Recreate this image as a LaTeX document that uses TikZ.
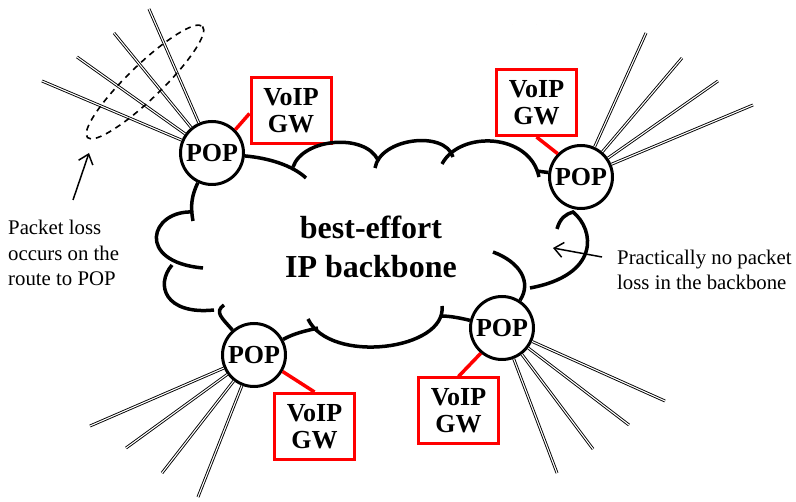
\documentclass[tikz,border=0pt]{standalone}
\usepackage{fontspec}
\setmainfont{Liberation Serif}
\usetikzlibrary{arrows.meta}

\tikzset{
  pop/.style={draw, shape=circle, line width=3pt, minimum size=63pt, inner sep=0pt,
    font=\fontsize{26}{27}\selectfont\bfseries},
  gw/.style={draw=red, line width=3pt, minimum width=80pt, minimum height=66pt, inner sep=0pt,
    align=center, font=\fontsize{26}{27}\selectfont\bfseries},
  fibre/.style={double, double distance=1.1pt, line width=0.9pt},
  trunk/.style={fibre, draw=red},
  link/.style={red, line width=3.5pt},
  cloud/.style={line width=3.5pt},
  note/.style={align=left, inner sep=0pt, font=\fontsize{20.8}{25.5}\selectfont},
  >={Straight Barb[length=9pt, width=15pt]},
}

\begin{document}
\begin{tikzpicture}[x=1pt, y=-1pt]
  \useasboundingbox (0,0) rectangle (796,502);

  % POPs
  \begin{scope}[every node/.style={pop}]
    \node (p1) at (212,153) {POP};
    \node (p2) at (581,177) {POP};
    \node (p3) at (254,355) {POP};
    \node (p4) at (502,328) {POP};
  \end{scope}

  % gateways
  \begin{scope}[every node/.style={gw}]
    \node (g1) at (291,110.5) {VoIP\\GW};
    \node (g2) at (536.5,102.5) {VoIP\\GW};
    \node (g3) at (314.5,426.5) {VoIP\\GW};
    \node (g4) at (458.5,411) {VoIP\\GW};
  \end{scope}

  \draw[link] (p1.45) -- ([yshift=-3pt]g1.west);
  \draw[link] (p2.135) -- (g2.south);
  \draw[link] (p3.-30) -- (g3.north);
  \draw[link] (p4.-130) -- (g4.north);

  % trunks
  \coordinate (t11) at (266,33);
  \coordinate (t12) at (289,33);
  \coordinate (t13) at (313,33);
  \coordinate (t21) at (512,25);
  \coordinate (t22) at (536,25);
  \coordinate (t23) at (559,25);
  \coordinate (t31) at (289,502);
  \coordinate (t32) at (313,502);
  \coordinate (t33) at (337,502);
  \coordinate (t41) at (433,489);
  \coordinate (t42) at (457,489);
  \coordinate (t43) at (481,489);

  \draw[trunk] (t11) -- (t11 |- g1.north);
  \draw[trunk] (t12) -- (t12 |- g1.north);
  \draw[trunk] (t13) -- (t13 |- g1.north);
  \draw[trunk] (t21) -- (t21 |- g2.north);
  \draw[trunk] (t22) -- (t22 |- g2.north);
  \draw[trunk] (t23) -- (t23 |- g2.north);
  \draw[trunk] (t31) -- (t31 |- g3.south);
  \draw[trunk] (t32) -- (t32 |- g3.south);
  \draw[trunk] (t33) -- (t33 |- g3.south);
  \draw[trunk] (t41) -- (t41 |- g4.south);
  \draw[trunk] (t42) -- (t42 |- g4.south);
  \draw[trunk] (t43) -- (t43 |- g4.south);

  % access lines
  \coordinate (e11) at (42,81);
  \coordinate (e12) at (77,57);
  \coordinate (e13) at (114,33);
  \coordinate (e14) at (149,9);
  \coordinate (e21) at (646,33);
  \coordinate (e22) at (682,58);
  \coordinate (e23) at (718,81);
  \coordinate (e24) at (753,105);
  \coordinate (e31) at (90,426);
  \coordinate (e32) at (126,448);
  \coordinate (e33) at (162,473);
  \coordinate (e34) at (198,497);
  \coordinate (e41) at (665,401);
  \coordinate (e42) at (629,425);
  \coordinate (e43) at (593,449);
  \coordinate (e44) at (557,473);

  \draw[fibre] (p1) -- (e11);
  \draw[fibre] (p1) -- (e12);
  \draw[fibre] (p1) -- (e13);
  \draw[fibre] (p1) -- (e14);
  \draw[fibre] (p2) -- (e21);
  \draw[fibre] (p2) -- (e22);
  \draw[fibre] (p2) -- (e23);
  \draw[fibre] (p2) -- (e24);
  \draw[fibre] (p3) -- (e31);
  \draw[fibre] (p3) -- (e32);
  \draw[fibre] (p3) -- (e33);
  \draw[fibre] (p3) -- (e34);
  \draw[fibre] (p4) -- (e41);
  \draw[fibre] (p4) -- (e42);
  \draw[fibre] (p4) -- (e43);
  \draw[fibre] (p4) -- (e44);

  % cloud
  \draw[cloud] (p1) .. controls (268,158) and (292,165) .. (306,178);
  \draw[cloud] (293,167) .. controls (303,138) and (365,133) .. (378,160);
  \draw[cloud] (375,168) .. controls (380,138) and (445,130) .. (453,157);
  \draw[cloud] (442,164) .. controls (460,130) and (530,133) .. (539,177);
  \draw[cloud] (537,171) -- (p2);
  \draw[cloud] (557,229) .. controls (560,218) and (566,214) .. (573,212)
    .. controls (595,230) and (600,275) .. (530,288);
  \draw[cloud] (493,252) .. controls (520,262) and (532,282) .. (p4);
  \draw[cloud] (p4) .. controls (460,318) and (450,316) .. (441,316);
  \draw[cloud] (442,306) .. controls (447,350) and (330,365) .. (308,319);
  \draw[cloud] (318,328) .. controls (305,331) and (295,333) .. (p3);
  \draw[cloud] (224,305) .. controls (214,312) and (222,318) .. (p3);
  \draw[cloud] (172,265) .. controls (155,285) and (165,315) .. (214,310);
  \draw[cloud] (193,212) .. controls (150,210) and (135,262) .. (203,268);
  \draw[cloud] (p1) .. controls (192,195) and (190,205) .. (193,221);

  \node[align=center, inner sep=0pt, font=\fontsize{32}{39}\selectfont\bfseries]
    (core) at (371,247) {best-effort\\IP backbone};

  % loss region
  \draw[dashed, dash pattern=on 6pt off 5pt, line width=1.6pt, rotate around={44:(145,82)}]
    (145,82) ellipse [x radius=80, y radius=17];

  % notes
  \node[note, anchor=west] (lossL) at (8,253) {Packet loss\\occurs on the\\route to POP};
  \node[note, anchor=west] (lossR) at (617,270) {Practically no packet\\loss in the backbone};

  \coordinate (a1) at (73,200);
  \coordinate (b1) at (89,153);
  \coordinate (a2) at (602,257);
  \coordinate (b2) at (553,248);
  \draw[->, line width=1.5pt] (a1) -- (b1);
  \draw[->, line width=1.5pt] (a2) -- (b2);
\end{tikzpicture}
\end{document}
